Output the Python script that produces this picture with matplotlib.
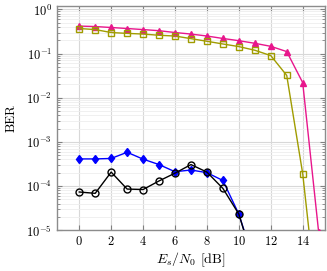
import matplotlib
matplotlib.use("Agg")
import matplotlib.pyplot as plt
from matplotlib.ticker import LogLocator, NullFormatter

plt.rcParams['font.family'] = 'serif'
plt.rcParams['font.serif'] = ['cmr10', 'DejaVu Serif']
plt.rcParams['mathtext.fontset'] = 'cm'
plt.rcParams['axes.formatter.use_mathtext'] = True

# BER curves
snr_long = list(range(16))
snr_short = list(range(12))
ber_magenta = [0.42, 0.41, 0.39, 0.37, 0.35, 0.33, 0.30, 0.277, 0.25, 0.22,
               0.196, 0.171, 0.146, 0.111, 0.022, 9e-6]
ber_olive = [0.37, 0.35, 0.30, 0.287, 0.277, 0.26, 0.25, 0.218, 0.19, 0.165,
             0.144, 0.119, 0.09, 0.032, 1.9e-4, 1e-7]
ber_blue = [4.1e-4, 4.1e-4, 4.2e-4, 5.8e-4, 4.05e-4, 3.05e-4, 2.1e-4, 2.3e-4,
            2.0e-4, 1.33e-4, 2.3e-5, 1.7e-6]
ber_black = [7.3e-5, 6.8e-5, 2.06e-4, 8.5e-5, 8.3e-5, 1.3e-4, 1.95e-4, 3.05e-4,
             2.06e-4, 8.8e-5, 2.3e-5, 1.5e-6]
xticks = [0, 2, 4, 6, 8, 10, 12, 14]

fig = plt.figure(figsize=(3.27, 2.71), dpi=100)
ax = fig.add_axes([0.174, 0.151, 0.820, 0.827])

ax.plot(snr_long, ber_magenta, color='#e8168c', marker='^', ms=4.5, lw=1, zorder=3)
ax.plot(snr_long, ber_olive, color='#a09c00', marker='s', ms=4.5, lw=1,
        mfc='none', mew=1, zorder=3)
ax.plot(snr_short, ber_blue, color='#0000ff', marker='d', ms=4.5, lw=1, zorder=3)
ax.plot(snr_short, ber_black, color='black', marker='o', ms=5, lw=1,
        mfc='none', mew=1, zorder=3)

ax.set_yscale('log')
ax.set_xlim(-1.4, 15.4)
ax.set_ylim(1e-5, 1.2)
ax.set_xticks(xticks)
ax.yaxis.set_major_locator(LogLocator(base=10, numticks=10))
ax.yaxis.set_minor_locator(LogLocator(base=10, subs=range(2, 10), numticks=10))
ax.yaxis.set_minor_formatter(NullFormatter())

ax.grid(True, which='major', color='#d8d8d8', lw=0.8)
ax.grid(True, which='minor', axis='y', color='#eeeeee', lw=0.6)
ax.set_axisbelow(True)

ax.tick_params(which='both', direction='in', top=True, right=True,
               labelsize=9, color='0.5')
ax.tick_params(which='major', length=3.5)
ax.tick_params(which='minor', length=2)
for s in ax.spines.values():
    s.set_color('0.55')
    s.set_linewidth(1)

ax.set_xlabel(r'$E_s/N_0$ [dB]', fontsize=10, labelpad=2)
ax.set_ylabel('BER', fontsize=9.5, labelpad=6)

fig.savefig('out.png', dpi=100)
